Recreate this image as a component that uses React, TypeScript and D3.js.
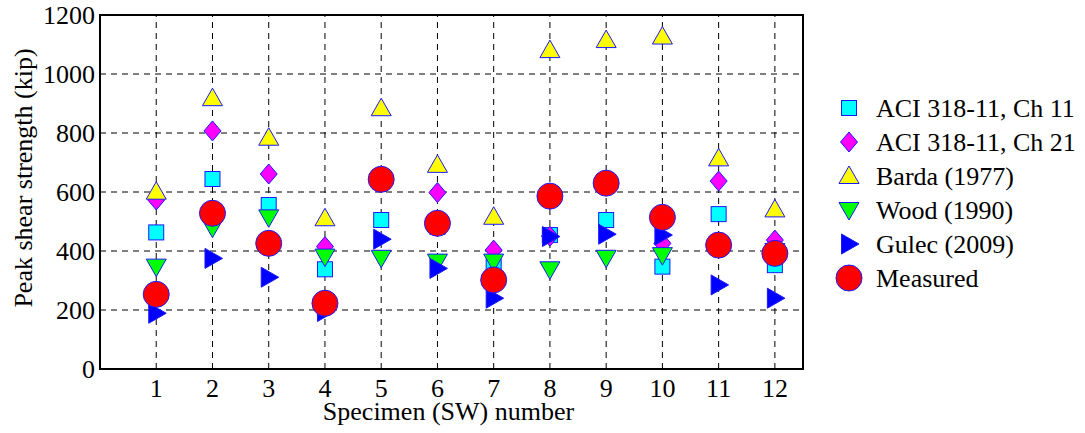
import React from "react";
import * as d3 from "d3";

const specimens = [1, 2, 3, 4, 5, 6, 7, 8, 9, 10, 11, 12];
const yTicks = [0, 200, 400, 600, 800, 1000, 1200];

const aci11 = [463, 644, 556, 338, 505, 482, 347, 454, 505, 347, 525, 352];
const aci21 = [573, 807, 661, 415, 640, 598, 403, 450, 630, 426, 637, 437];
const barda = [601, 918, 784, 511, 884, 692, 516, 1081, 1115, 1127, 714, 541];
const wood = [347, 479, 514, 381, 377, 364, 364, 338, 377, 386, 420, 400];
const gulec = [189, 375, 311, 195, 440, 341, 240, 449, 457, 454, 285, 240];
const measured = [253, 528, 426, 223, 643, 494, 302, 586, 630, 514, 420, 392];

const seriesNames = [
  "ACI 318-11, Ch 11",
  "ACI 318-11, Ch 21",
  "Barda (1977)",
  "Wood (1990)",
  "Gulec (2009)",
  "Measured",
];

const EDGE = "#1a1aff";

type Mark = { kind: string; fill: string; values: number[] };

const marks: Mark[] = [
  { kind: "square", fill: "#00ffff", values: aci11 },
  { kind: "diamond", fill: "#ff00ff", values: aci21 },
  { kind: "up", fill: "#ffff00", values: barda },
  { kind: "down", fill: "#00ff00", values: wood },
  { kind: "right", fill: "#0000ff", values: gulec },
  { kind: "circle", fill: "#ff0000", values: measured },
];

const Marker = ({ kind, fill, cx, cy }: { kind: string; fill: string; cx: number; cy: number }) => {
  const common = { fill, stroke: EDGE, strokeWidth: 1 };
  if (kind === "square") return <rect x={cx - 7.5} y={cy - 7.5} width={15} height={15} {...common} />;
  if (kind === "circle") return <circle cx={cx} cy={cy} r={13} {...common} />;
  let pts: number[][] = [];
  if (kind === "diamond") pts = [[0, -10], [8.5, 0], [0, 10], [-8.5, 0]];
  if (kind === "up") pts = [[0, -10], [10, 7.5], [-10, 7.5]];
  if (kind === "down") pts = [[0, 10], [10, -7.5], [-10, -7.5]];
  if (kind === "right") pts = [[10, 0], [-7.5, -10], [-7.5, 10]];
  return <polygon points={pts.map((p) => `${cx + p[0]},${cy + p[1]}`).join(" ")} {...common} />;
};

export default function App() {
  const width = 1085;
  const height = 433;
  const margin = { left: 100, top: 15, right: 282, bottom: 64 };
  const x = d3.scaleLinear().domain([0, 12.5]).range([margin.left, width - margin.right]);
  const y = d3.scaleLinear().domain([0, 1200]).range([height - margin.bottom, margin.top]);
  const font = "'Liberation Serif', 'Times New Roman', serif";
  const fs = 26;

  return (
    <svg width={width} height={height} style={{ position: "absolute", left: 0, top: 0, background: "#fff" }}>
      <g fontFamily={font} fill="#000">
        {yTicks.slice(1, -1).map((t) => (
          <line key={"h" + t} x1={x(0)} x2={x(12.5)} y1={y(t)} y2={y(t)} stroke="#000" strokeWidth={1} strokeDasharray="6,5" />
        ))}
        {specimens.map((s) => (
          <line key={"v" + s} x1={x(s)} x2={x(s)} y1={y(0)} y2={y(1200)} stroke="#000" strokeWidth={1} strokeDasharray="6,5" />
        ))}
        {marks.map((m, i) =>
          m.values.map((v, j) => (
            <Marker key={i + "-" + j} kind={m.kind} fill={m.fill} cx={x(specimens[j])} cy={y(v)} />
          ))
        )}
        <rect x={x(0)} y={y(1200)} width={x(12.5) - x(0)} height={y(0) - y(1200)} fill="none" stroke="#000" strokeWidth={2} />
        {yTicks.map((t) => (
          <text key={"yt" + t} x={x(0) - 5} y={y(t)} dy="0.33em" textAnchor="end" fontSize={fs}>
            {t}
          </text>
        ))}
        {specimens.map((s) => (
          <text key={"xt" + s} x={x(s)} y={y(0) + 28} textAnchor="middle" fontSize={fs}>
            {s}
          </text>
        ))}
        <text x={(x(0) + x(12.5)) / 2 - 3} y={y(0) + 51} textAnchor="middle" fontSize={fs}>
          Specimen (SW) number
        </text>
        <text transform="translate(32,178) rotate(-90)" textAnchor="middle" fontSize={fs}>
          Peak shear strength (kip)
        </text>
        {marks.map((m, i) => {
          const ly = 108 + i * 34;
          return (
            <g key={"lg" + i}>
              <Marker kind={m.kind} fill={m.fill} cx={849} cy={ly} />
              <text x={876} y={ly} dy="0.33em" fontSize={fs}>
                {seriesNames[i]}
              </text>
            </g>
          );
        })}
      </g>
    </svg>
  );
}
